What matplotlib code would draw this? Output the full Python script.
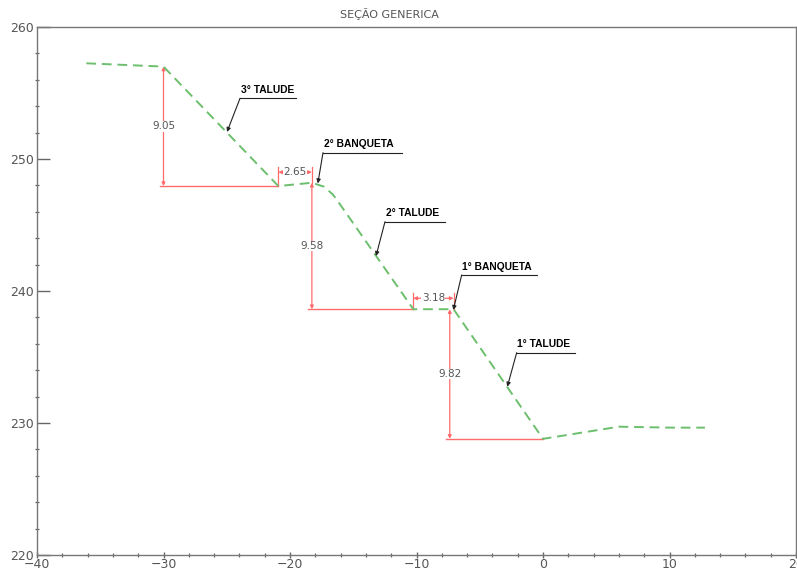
import matplotlib
matplotlib.use("Agg")
import matplotlib.pyplot as plt
from matplotlib.ticker import MultipleLocator

# Terrain profile of the cut section (offset, elevation)
ground_x = [-36.1, -30.0, -20.92, -18.27, -17.3, -16.6, -16.0, -10.25, -7.07, 0.0, 6.0, 10.0, 12.8]
ground_y = [257.25, 257.0, 247.95, 248.2, 247.9, 247.3, 246.5, 238.62, 238.62, 228.8, 229.72, 229.65, 229.65]

# Slope geometry used by the dimension lines
crest_x = [-30.0, -18.27, -7.07]
crest_y = [257.0, 248.2, 238.62]
toe_x = [-20.92, -10.25, 0.0]
heights = [9.05, 9.58, 9.82]
bench_widths = [2.65, 3.18]

# Callout labels
label_names = ["3° TALUDE", "2° BANQUETA", "2° TALUDE", "1° BANQUETA", "1° TALUDE"]
label_tip_x = [-24.98, -17.8, -13.2, -7.09, -2.82]
label_tip_y = [252.05, 248.15, 242.65, 238.56, 232.75]
label_x0 = [-23.95, -17.39, -12.49, -6.43, -2.08]
label_x1 = [-19.5, -11.17, -7.75, -0.5, 2.53]
label_y = [254.6, 250.48, 245.25, 241.21, 235.33]

x_ticks = [-40, -30, -20, -10, 0, 10, 20]
y_ticks = [220, 230, 240, 250, 260]

RED = "#ff6b6b"
GREEN = "#6cbf6c"
GRAY = "#555555"

fig = plt.figure(figsize=(7.97, 5.70), dpi=100)
ax = fig.add_axes([37 / 797, 15 / 570, 759 / 797, 528 / 570])

# terrain
ax.plot(ground_x, ground_y, color=GREEN, lw=1.4, linestyle=(0, (5, 3)), zorder=3)

# vertical dimensions with their base lines
dim_x = [crest_x[0], crest_x[1], crest_x[2] - 0.3]
for i in range(3):
    top = crest_y[i]
    bot = top - heights[i]
    xd = dim_x[i]
    ax.annotate("", xy=(xd, top), xytext=(xd, bot),
                arrowprops=dict(arrowstyle="<|-|>", color=RED, lw=0.9,
                                mutation_scale=5, shrinkA=0, shrinkB=0), zorder=2)
    ax.plot([xd - 0.3, toe_x[i]], [bot, bot], color=RED, lw=1.0, zorder=2)
    ax.text(xd, (top + bot) / 2, f"{heights[i]:.2f}", color=GRAY, fontsize=7.5,
            ha="center", va="center", zorder=4,
            bbox=dict(facecolor="white", edgecolor="none", pad=0.3))

# bench width dimensions
bench_dim_y = [249.0, 239.45]
for i in range(2):
    x0 = toe_x[i]
    x1 = x0 + bench_widths[i]
    yd = bench_dim_y[i]
    toe_y = crest_y[i] - heights[i]
    ax.annotate("", xy=(x0, yd), xytext=(x1, yd),
                arrowprops=dict(arrowstyle="<|-|>", color=RED, lw=0.9,
                                mutation_scale=5, shrinkA=0, shrinkB=0), zorder=2)
    ax.plot([x0, x0], [yd + 0.4, toe_y], color=RED, lw=0.9, zorder=2)
    ax.plot([x1, x1], [yd + 0.4, crest_y[i + 1]], color=RED, lw=0.9, zorder=2)
    ax.text((x0 + x1) / 2, yd, f"{bench_widths[i]:.2f}", color=GRAY, fontsize=7.5,
            ha="center", va="center", zorder=4,
            bbox=dict(facecolor="white", edgecolor="none", pad=0.3))

# callouts
for name, tx, ty, x0, x1, yl in zip(label_names, label_tip_x, label_tip_y,
                                     label_x0, label_x1, label_y):
    ax.plot([x0, x1], [yl, yl], color="#222222", lw=0.8, zorder=4)
    ax.annotate("", xy=(tx, ty), xytext=(x0, yl),
                arrowprops=dict(arrowstyle="-|>", color="#222222", lw=0.8,
                                mutation_scale=6, shrinkA=0, shrinkB=0), zorder=4)
    ax.text(x0 + 0.05, yl + 0.25, name, fontsize=7.4, fontweight="bold",
            family="Liberation Sans", color="black", ha="left", va="bottom", zorder=4)

ax.set_xlim(-40, 20)
ax.set_ylim(220, 260)
ax.set_xticks(x_ticks)
ax.set_yticks(y_ticks)
ax.xaxis.set_minor_locator(MultipleLocator(2))
ax.yaxis.set_minor_locator(MultipleLocator(2))

for s in ax.spines.values():
    s.set_color("#777777")
    s.set_linewidth(1.0)

ax.tick_params(axis="y", which="major", direction="in", length=9, width=1.0,
               color="#666666", labelcolor=GRAY, labelsize=9, pad=2)
ax.tick_params(axis="y", which="minor", direction="inout", length=3.5, width=0.9,
               color="#666666")
ax.tick_params(axis="x", which="major", direction="inout", length=4, width=1.0,
               color="#666666", labelcolor=GRAY, labelsize=9, pad=0)
ax.tick_params(axis="x", which="minor", direction="inout", length=2.5, width=0.9,
               color="#666666")

fig.text(389 / 797, 1 - 14 / 570, "SEÇÃO GENERICA", color=GRAY, fontsize=8,
         ha="center", va="center")

fig.savefig("out.png", dpi=100)
